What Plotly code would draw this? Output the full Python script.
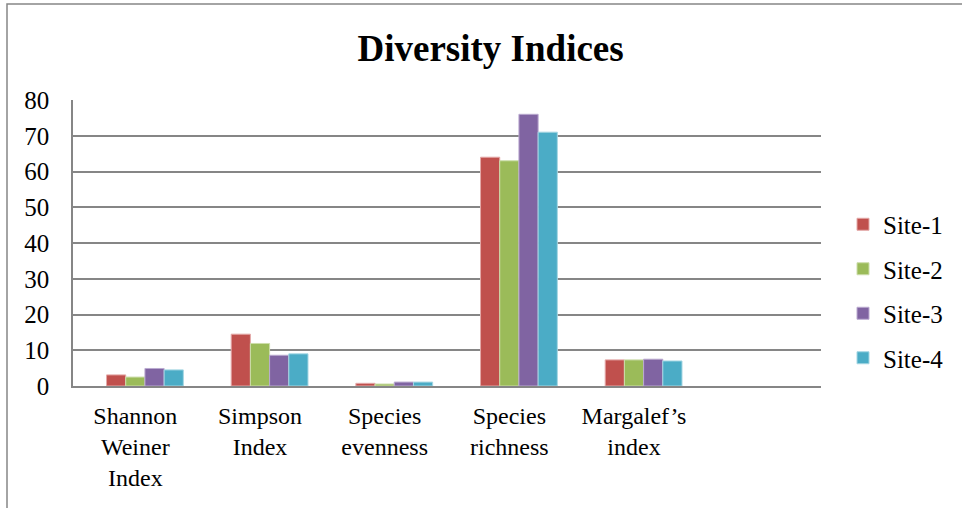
import plotly.graph_objects as go

categories = ["Shannon<br>Weiner<br>Index", "Simpson<br>Index", "Species<br>evenness",
              "Species<br>richness", "Margalef’s<br>index"]
series_names = ["Site-1", "Site-2", "Site-3", "Site-4"]
site1 = [3.1, 14.5, 0.75, 64, 7.3]
site2 = [2.5, 11.9, 0.55, 63, 7.3]
site3 = [4.9, 8.6, 1.1, 76, 7.5]
site4 = [4.5, 9.0, 1.1, 71, 7.0]
empty_series = [0, 0, 0, 0, 0]
values = [site1, site2, site3, site4]
colors = ["#C0504D", "#9BBB59", "#8064A2", "#4BACC6"]
edge = ["#E4A9A8", "#CCDDAA", "#BBAAD0", "#A5D6E3"]
y_ticks = [0, 10, 20, 30, 40, 50, 60, 70, 80]

FONT = "Liberation Serif"

fig = go.Figure()
# empty series (reserves the first slot of each group, as in the original)
fig.add_trace(go.Bar(x=categories, y=empty_series, name="",
                     marker=dict(color="rgba(0,0,0,0)", line=dict(width=0)),
                     showlegend=False, hoverinfo="skip"))
for i, (name, vals) in enumerate(zip(series_names, values)):
    fig.add_trace(go.Bar(
        x=categories, y=vals, name=name,
        marker=dict(color=colors[i], line=dict(color=edge[i], width=1)),
        legendgroup=name,
    ))

L, R, T, B = 73, 141, 100, 122
W, H = 962, 508
pw, ph = W - L - R, H - T - B

fig.update_layout(
    width=W, height=H,
    margin=dict(l=L, r=R, t=T, b=B, autoexpand=False),
    paper_bgcolor="white", plot_bgcolor="white",
    barmode="group", bargap=0.23, bargroupgap=0,
    font=dict(family=FONT, size=25, color="black"),
    title=dict(text="<b>Diversity Indices</b>", x=0.51, xanchor="center",
               y=1 - 48 / H, yanchor="middle",
               font=dict(family=FONT, size=37, color="black")),
    legend=dict(x=(843 - L) / pw, xanchor="left", y=(386 - 291) / ph,
                yanchor="middle", traceorder="grouped", tracegroupgap=9,
                font=dict(family=FONT, size=25, color="black"),
                bgcolor="rgba(0,0,0,0)"),
    xaxis=dict(range=[-0.5, 5.5], showgrid=False, showline=True,
               linecolor="#868686", linewidth=1.5, ticks="",
               ticklabelstandoff=7, tickfont=dict(family=FONT, size=24)),
    yaxis=dict(range=[0, 80], tickvals=y_ticks, showgrid=True,
               gridcolor="#868686", gridwidth=1.5, showline=True,
               linecolor="#868686", linewidth=1.5, ticks="",
               ticklabelstandoff=17, zeroline=False,
               tickfont=dict(family=FONT, size=25)),
    shapes=[dict(type="rect", xref="paper", yref="paper",
                 x0=(7 - L) / pw, x1=(W + 20 - L) / pw,
                 y0=-(H + 20 - (H - B)) / ph, y1=(H - B - 4) / ph,
                 line=dict(color="#868686", width=1.5), fillcolor="rgba(0,0,0,0)",
                 layer="below")],
)

fig.write_html("out.html")
